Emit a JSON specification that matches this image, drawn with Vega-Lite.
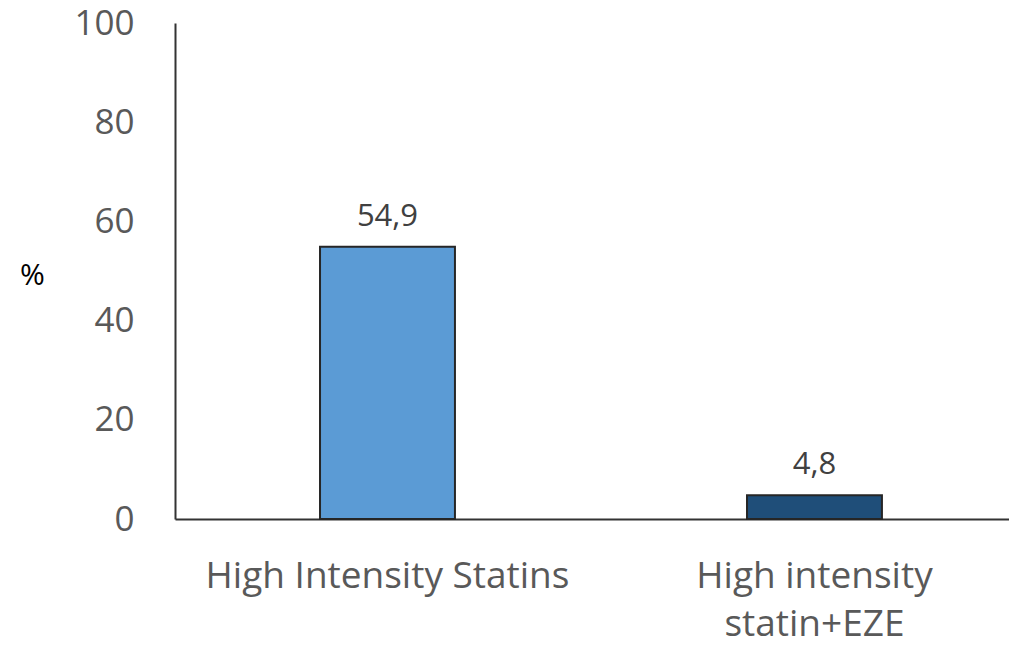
{
  "$schema": "https://vega.github.io/schema/vega-lite/v6.json",
  "autosize": "none",
  "width": 834,
  "height": 496,
  "padding": {"left": 175, "top": 23, "right": 0, "bottom": 126},
  "background": "white",
  "config": {
    "view": {"stroke": null},
    "font": "Open Sans",
    "locale": {
      "number": {"decimal": ",", "thousands": ".", "grouping": [3], "currency": ["", " €"]}
    }
  },
  "data": {
    "values": [
      {"group": "High Intensity Statins", "pct": 54.9},
      {"group": "High intensity statin+EZE", "pct": 4.8}
    ]
  },
  "encoding": {
    "x": {
      "field": "group",
      "type": "nominal",
      "sort": null,
      "scale": {"paddingInner": 0.684, "paddingOuter": 0.3186, "align": 0.533},
      "axis": {
        "title": null,
        "labelAngle": 0,
        "ticks": false,
        "domainColor": "#333333",
        "domainWidth": 2,
        "labelFont": "Open Sans",
        "labelFontSize": 37,
        "labelColor": "#595959",
        "labelBaseline": "top",
        "labelPadding": 39,
        "labelLineHeight": 48,
        "labelLimit": 500,
        "labelExpr": "datum.value == 'High intensity statin+EZE' ? ['High intensity', 'statin+EZE'] : datum.value"
      }
    },
    "y": {
      "field": "pct",
      "type": "quantitative",
      "scale": {"domain": [0, 100], "nice": false},
      "axis": {
        "values": [0, 20, 40, 60, 80, 100],
        "format": "d",
        "grid": false,
        "ticks": false,
        "domainColor": "#333333",
        "domainWidth": 2,
        "labelFont": "Open Sans",
        "labelFontSize": 35,
        "labelColor": "#595959",
        "labelPadding": 41,
        "title": "%",
        "titleAngle": 0,
        "titleFont": "Open Sans",
        "titleFontSize": 30,
        "titleFontWeight": "normal",
        "titleColor": "#000000",
        "titleX": -143,
        "titleY": 252,
        "titleAlign": "center",
        "titleBaseline": "middle"
      }
    }
  },
  "layer": [
    {
      "mark": {"type": "bar", "stroke": "#262626", "strokeWidth": 2},
      "encoding": {
        "color": {
          "field": "group",
          "type": "nominal",
          "scale": {
            "domain": ["High Intensity Statins", "High intensity statin+EZE"],
            "range": ["#5B9BD5", "#1F4E79"]
          },
          "legend": null
        }
      }
    },
    {
      "mark": {
        "type": "text",
        "dy": -30,
        "fontSize": 31,
        "font": "Open Sans",
        "color": "#404040",
        "baseline": "middle"
      },
      "encoding": {
        "text": {"field": "pct", "type": "quantitative", "format": ".1f"}
      }
    }
  ]
}
